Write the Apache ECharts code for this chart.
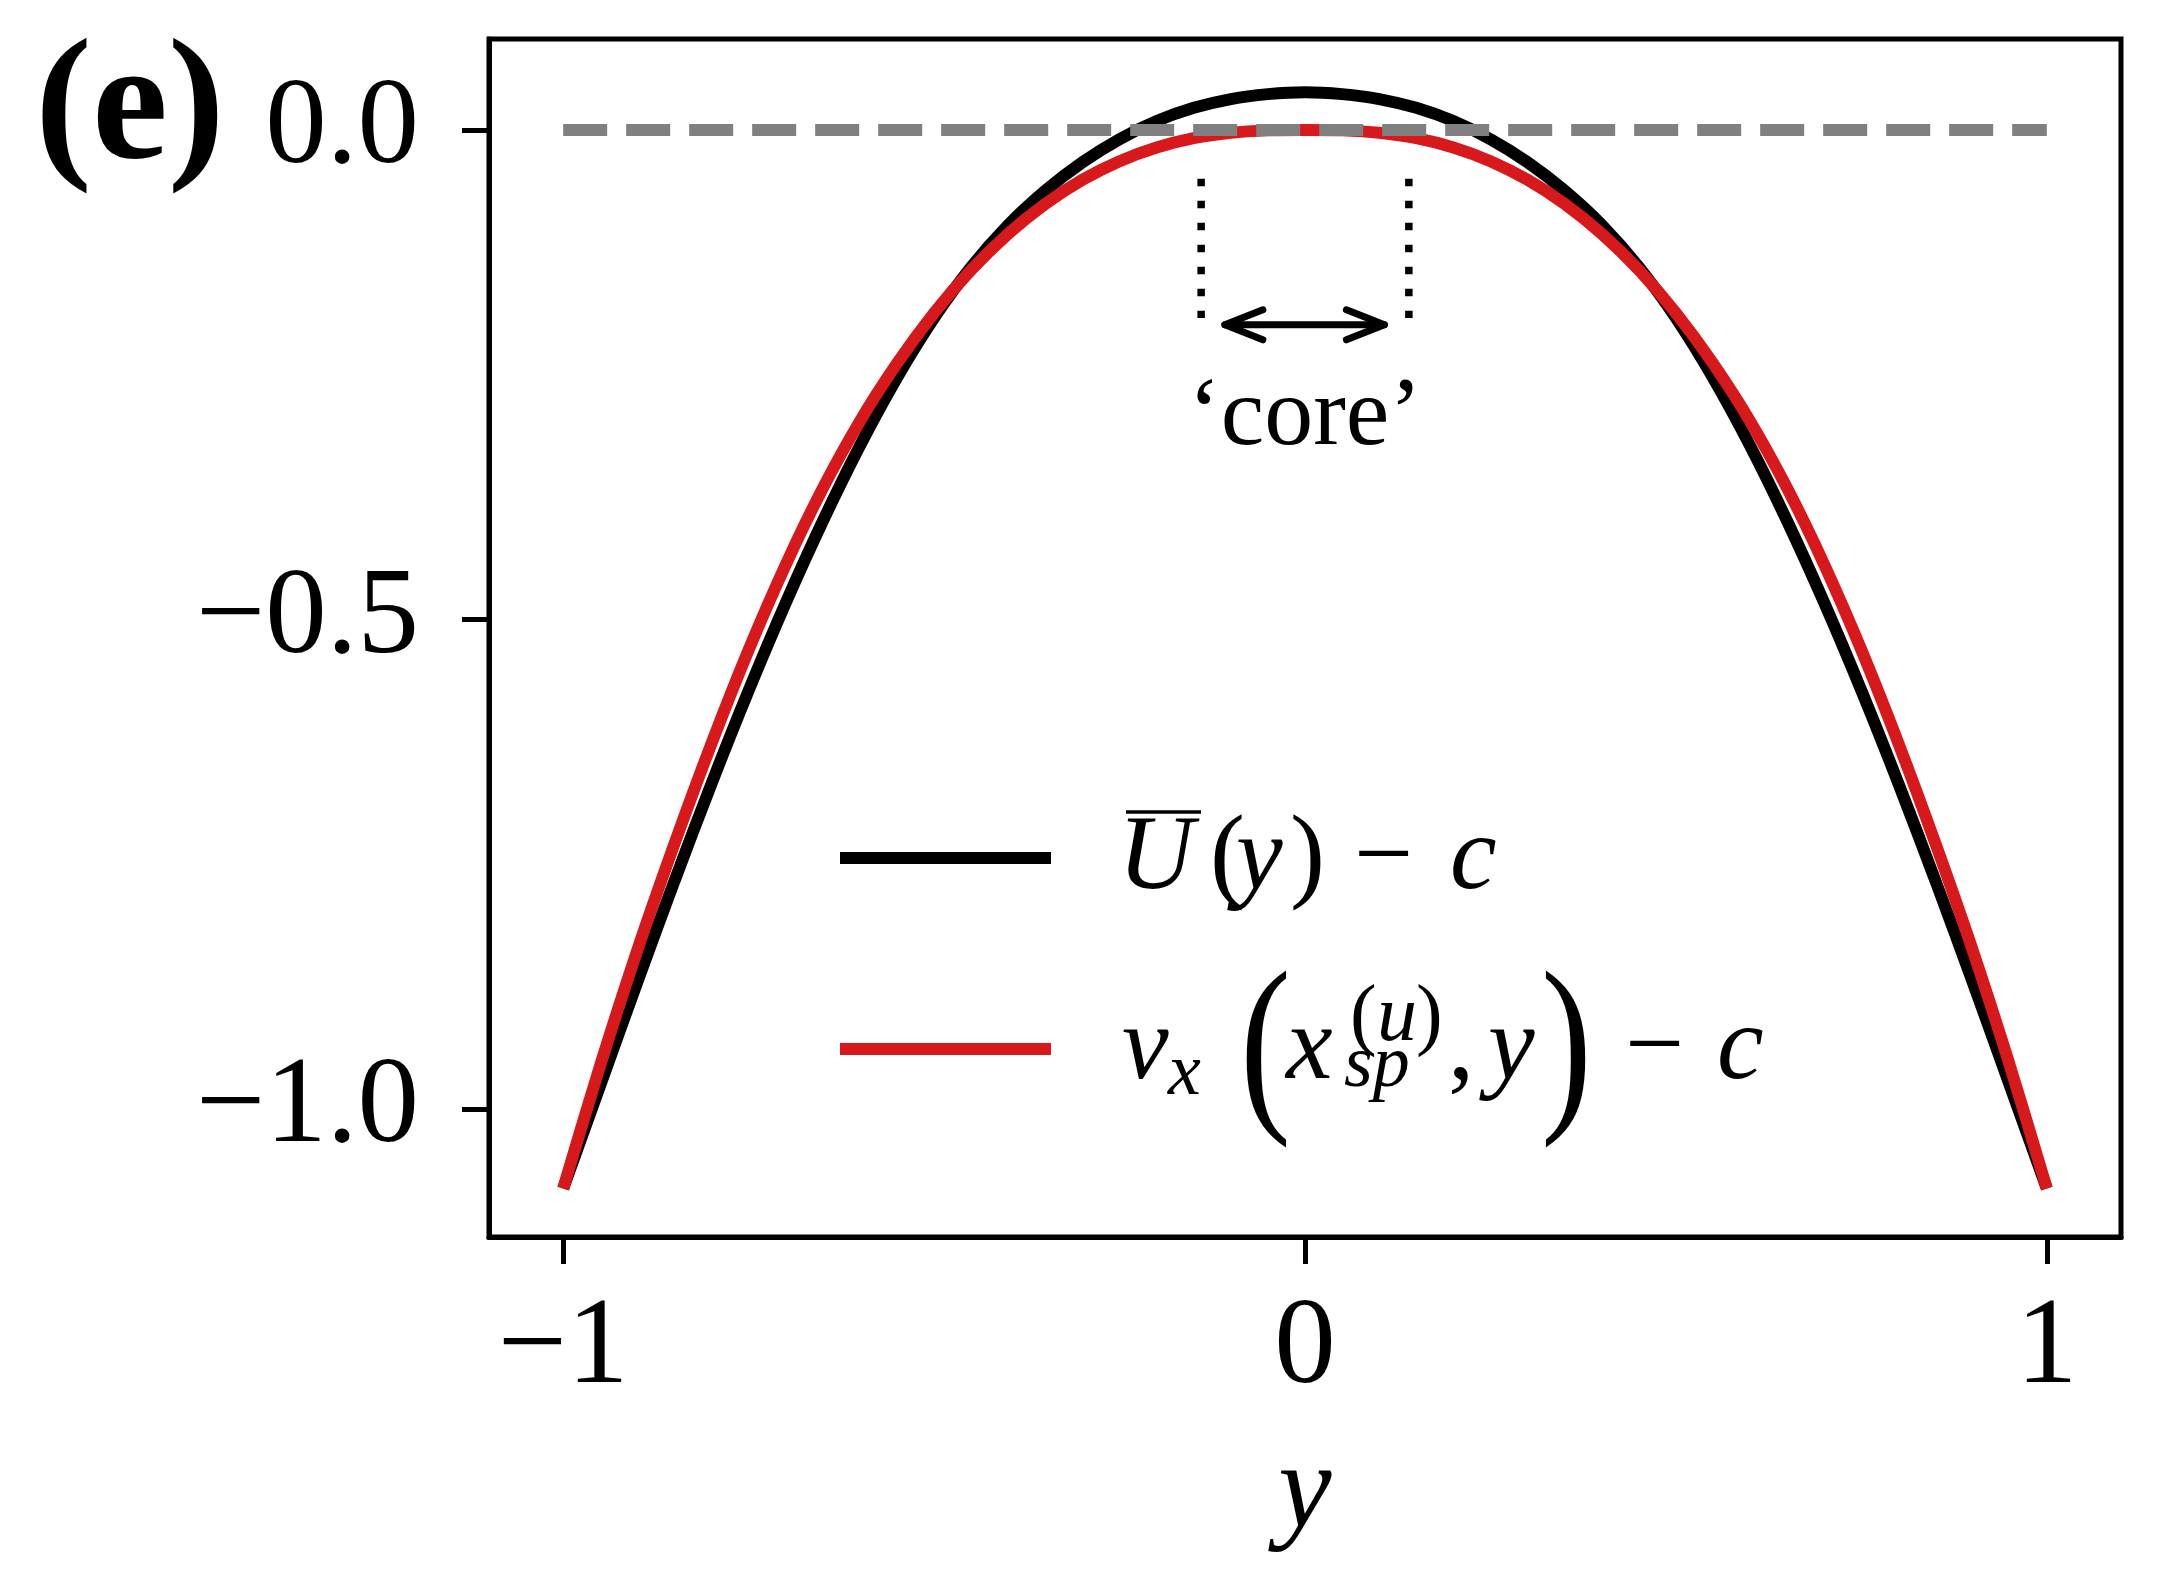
<!DOCTYPE html>
<html>
<head>
<meta charset="utf-8">
<script src="https://cdn.jsdelivr.net/npm/echarts@6/dist/echarts.min.js"></script>
<style>
  html, body { margin: 0; padding: 0; background: #fff; }
  #main { width: 2160px; height: 1589px; }
</style>
</head>
<body>
<div id="main"></div>
<script>
// wall-normal coordinate
var ys = [-1, -0.95, -0.9, -0.85, -0.8, -0.75, -0.7, -0.65, -0.6, -0.55, -0.5, -0.45, -0.4, -0.35, -0.3, -0.25, -0.2, -0.15, -0.1, -0.05, 0,
          0.05, 0.1, 0.15, 0.2, 0.25, 0.3, 0.35, 0.4, 0.45, 0.5, 0.55, 0.6, 0.65, 0.7, 0.75, 0.8, 0.85, 0.9, 0.95, 1];
// U(y) - c  (black)
var meanProfile = [-1.081, -0.9755, -0.870, -0.767, -0.6675, -0.5725, -0.483, -0.3995, -0.3225, -0.253, -0.192, -0.140, -0.097, -0.062, -0.033, -0.0095, 0.009, 0.0225, 0.0315, 0.0365, 0.0385,
                   0.0365, 0.0315, 0.0225, 0.009, -0.0095, -0.033, -0.062, -0.097, -0.140, -0.192, -0.253, -0.3225, -0.3995, -0.483, -0.5725, -0.6675, -0.767, -0.870, -0.9755, -1.081];
// v_x(x_sp, y) - c  (red)
var streakProfile = [-1.081, -0.955, -0.8375, -0.729, -0.6265, -0.531, -0.444, -0.366, -0.2975, -0.2385, -0.187, -0.143, -0.106, -0.0755, -0.051, -0.032, -0.018, -0.0085, -0.003, -0.0005, 0,
                     -0.0005, -0.003, -0.0085, -0.018, -0.032, -0.051, -0.0755, -0.106, -0.143, -0.187, -0.2385, -0.2975, -0.366, -0.444, -0.531, -0.6265, -0.729, -0.8375, -0.955, -1.081];

var zeroLineX = [-1, 1];
var coreEdges = [-0.14, 0.14];
var coreDotSpan = [-0.05, -0.192];
var arrowSpan = [-0.108, 0.107];
var arrowLevel = -0.199;
var coreLabelLevel = -0.294;

var xTicks = [-1, 0, 1];
var xTickLabels = ['\u22121', '0', '1'];
var yTicks = [-1, -0.5, 0];
var yTickLabels = ['\u22121.0', '\u22120.5', '0.0'];

var serif = "'Liberation Serif', 'Times New Roman', serif";

function pick(ticks, labels) {
  return function (v) {
    for (var i = 0; i < ticks.length; i++) {
      if (Math.abs(ticks[i] - v) < 1e-6) return labels[i];
    }
    return '';
  };
}

function pairs(xs, vs) {
  return xs.map(function (x, i) { return [x, vs[i]]; });
}

// text piece for the legend formulas
function piece(str, x, y, size, italic, sx) {
  return {
    type: 'text', x: x, y: y, scaleX: sx || 1, silent: true,
    style: {
      text: str, fill: '#000', fontFamily: serif, fontSize: size,
      fontStyle: italic ? 'italic' : 'normal',
      align: 'left', verticalAlign: 'middle'
    }
  };
}

var dom = document.getElementById('main');
var myChart = echarts.init(dom, null, { renderer: 'canvas' });

var option = {
  animation: false,
  backgroundColor: '#fff',
  grid: {
    left: 489, right: 39, top: 39, bottom: 352,
    show: true, borderColor: '#000', borderWidth: 5, backgroundColor: 'transparent'
  },
  xAxis: {
    type: 'value', min: -1.1, max: 1.1,
    axisLine: { show: true, onZero: false, lineStyle: { color: '#000', width: 5 } },
    axisTick: { show: true, length: 27, customValues: xTicks, lineStyle: { color: '#000', width: 5 } },
    axisLabel: {
      customValues: xTicks, formatter: pick(xTicks, xTickLabels),
      margin: 51, color: '#000', fontFamily: serif, fontSize: 123
    },
    splitLine: { show: false },
    name: 'y', nameLocation: 'middle', nameGap: 197,
    nameTextStyle: { fontFamily: serif, fontStyle: 'italic', fontSize: 120, color: '#000' }
  },
  yAxis: {
    type: 'value', min: -1.1305, max: 0.0928,
    axisLine: { show: true, onZero: false, lineStyle: { color: '#000', width: 5 } },
    axisTick: { show: true, length: 27, customValues: yTicks, lineStyle: { color: '#000', width: 5 } },
    axisLabel: {
      customValues: yTicks, formatter: pick(yTicks, yTickLabels),
      margin: 70, color: '#000', fontFamily: serif, fontSize: 123
    },
    splitLine: { show: false }
  },
  legend: {
    data: ['mean', 'streak'],
    orient: 'vertical', left: 840, top: 852, padding: 0,
    itemWidth: 211, itemHeight: 12, itemGap: 179,
    icon: 'rect', selectedMode: false,
    formatter: function () { return ''; },
    textStyle: { fontSize: 12 }
  },
  graphic: [
    {
      type: 'text', x: 35, y: 113, silent: true,
      style: { text: '(e)', fill: '#000', fontFamily: serif, fontWeight: 'bold', fontSize: 171, verticalAlign: 'middle' }
    },
    // legend label 1:  U-bar(y) - c
    piece('U', 1118, 860, 105, true),
    { type: 'line', silent: true, shape: { x1: 1126, y1: 812, x2: 1201, y2: 812 }, style: { stroke: '#000', lineWidth: 3.5 } },
    piece('(', 1210, 860, 105, false),
    piece('y', 1236, 860, 105, true),
    piece(')', 1290, 860, 105, false),
    piece('\u2212', 1354, 860, 105, false),
    piece('c', 1450, 860, 105, true),
    // legend label 2:  v_x ( x_sp^(u) , y ) - c
    piece('v', 1122, 1050, 105, true),
    piece('x', 1168, 1075, 74, true),
    piece('(', 1240, 1055, 196, false, 0.78),
    piece('x', 1286, 1050, 105, true),
    piece('(', 1350, 1019, 80, false),
    piece('u', 1377, 1019, 80, true),
    piece(')', 1416, 1019, 80, false),
    piece('sp', 1344, 1067, 74, true),
    piece(',', 1448, 1050, 105, false),
    piece('y', 1488, 1050, 105, true),
    piece(')', 1541, 1055, 196, false, 0.78),
    piece('\u2212', 1625, 1050, 105, false),
    piece('c', 1717, 1050, 105, true)
  ],
  series: [
    {
      name: 'mean', type: 'line', data: pairs(ys, meanProfile),
      showSymbol: false, smooth: 0.3, z: 2,
      itemStyle: { color: '#000000' },
      lineStyle: { color: '#000000', width: 12, cap: 'butt' }
    },
    {
      name: 'streak', type: 'line', data: pairs(ys, streakProfile),
      showSymbol: false, smooth: 0.3, z: 3,
      itemStyle: { color: '#d7191c' },
      lineStyle: { color: '#d7191c', width: 12, cap: 'butt' }
    },
    {
      name: 'zero', type: 'line', data: pairs(zeroLineX, [0, 0]),
      showSymbol: false, z: 4, silent: true,
      lineStyle: { color: '#808080', width: 12, type: [44, 19], cap: 'butt' }
    },
    {
      name: 'coreLeft', type: 'line', data: pairs([coreEdges[0], coreEdges[0]], coreDotSpan),
      showSymbol: false, z: 4, silent: true,
      lineStyle: { color: '#000', width: 7.5, type: [7.5, 14.5], cap: 'butt' }
    },
    {
      name: 'coreRight', type: 'line', data: pairs([coreEdges[1], coreEdges[1]], coreDotSpan),
      showSymbol: false, z: 4, silent: true,
      lineStyle: { color: '#000', width: 7.5, type: [7.5, 14.5], cap: 'butt' }
    },
    {
      name: 'coreArrow', type: 'custom', z: 5, silent: true,
      data: [[arrowSpan[0], arrowSpan[1], arrowLevel]],
      encode: { x: [0, 1], y: 2 },
      renderItem: function (params, api) {
        var a = api.coord([api.value(0), api.value(2)]);
        var b = api.coord([api.value(1), api.value(2)]);
        var hl = 38, hw = 15;
        var st = { stroke: '#000', lineWidth: 7, lineCap: 'round', lineJoin: 'round', fill: null };
        return {
          type: 'group',
          children: [
            { type: 'line', shape: { x1: a[0], y1: a[1], x2: b[0], y2: b[1] }, style: st },
            { type: 'polyline', shape: { points: [[a[0] + hl, a[1] - hw], a, [a[0] + hl, a[1] + hw]] }, style: st },
            { type: 'polyline', shape: { points: [[b[0] - hl, b[1] - hw], b, [b[0] - hl, b[1] + hw]] }, style: st }
          ]
        };
      }
    },
    {
      name: 'coreLabel', type: 'custom', z: 5, silent: true,
      data: [[0, coreLabelLevel]],
      encode: { x: 0, y: 1 },
      renderItem: function (params, api) {
        var p = api.coord([api.value(0), api.value(1)]);
        return {
          type: 'text', x: p[0], y: p[1],
          style: {
            text: '\u2018core\u2019', fill: '#000', fontFamily: serif, fontSize: 98,
            align: 'center', verticalAlign: 'middle'
          }
        };
      }
    }
  ]
};

if (option && typeof option === 'object') {
  myChart.setOption(option);
}

window.addEventListener('resize', myChart.resize);
</script>
</body>
</html>
